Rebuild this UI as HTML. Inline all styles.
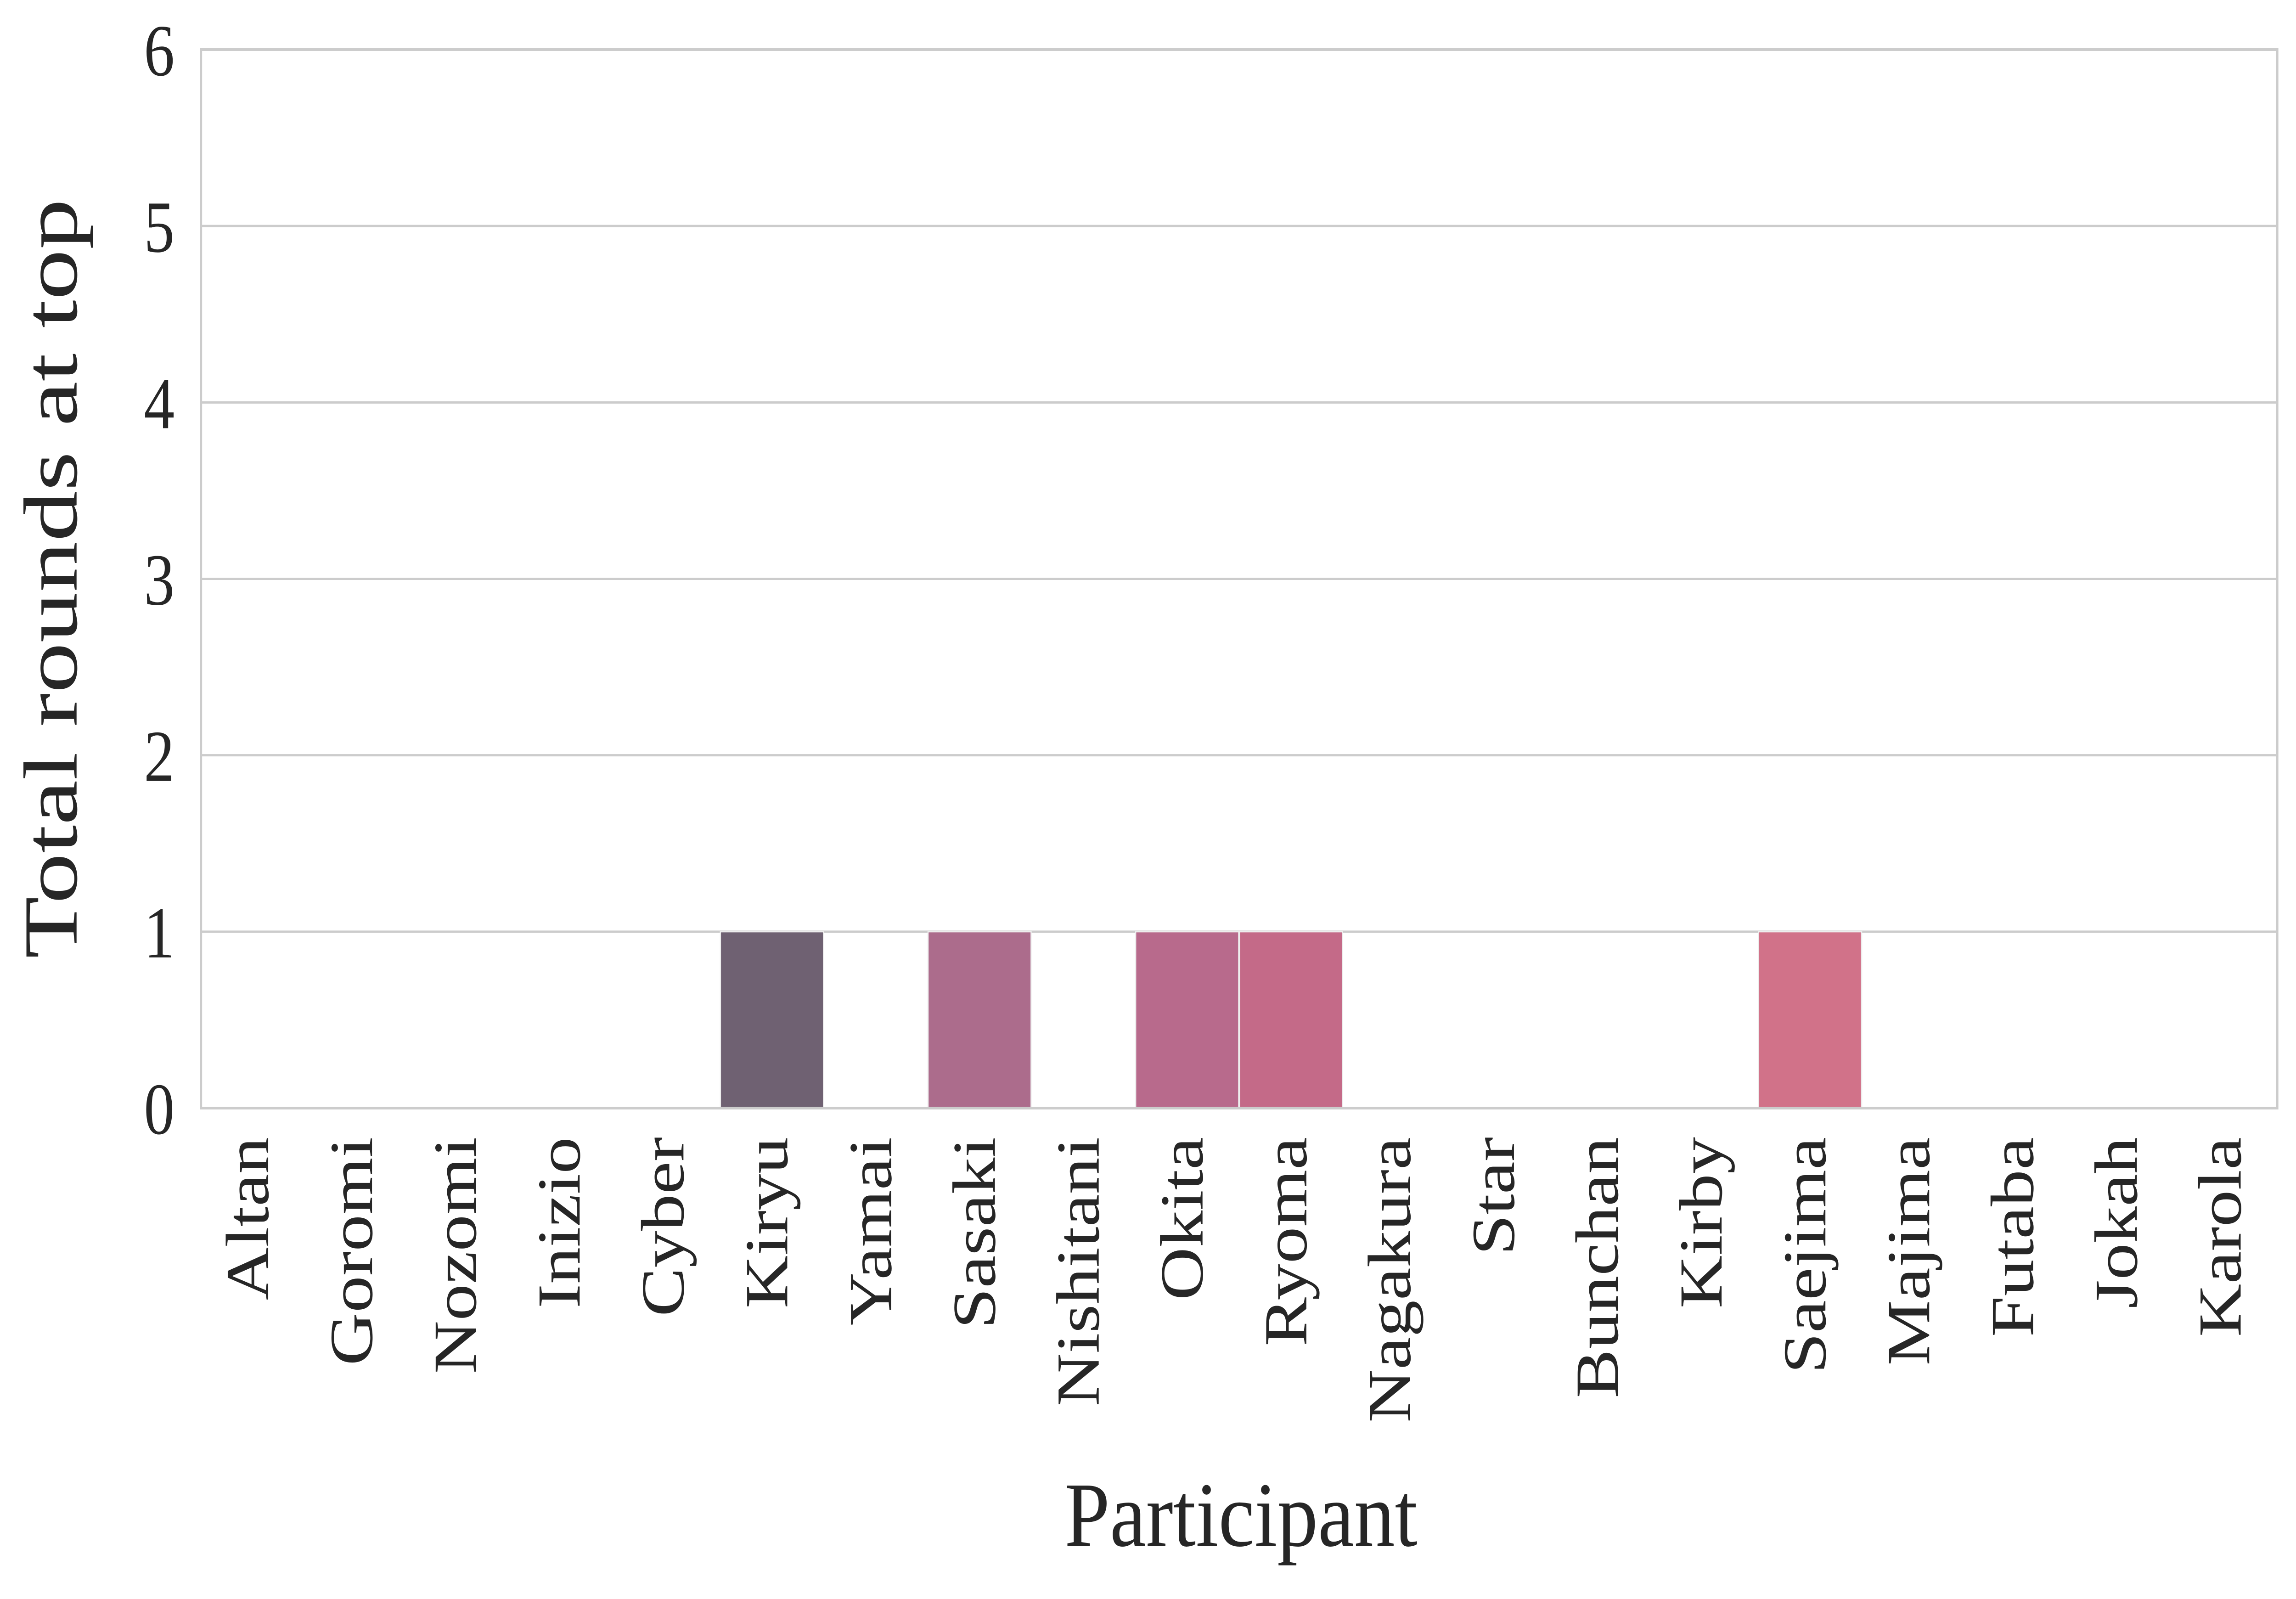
<!DOCTYPE html>
<html><head><meta charset="utf-8"><style>
html,body{margin:0;padding:0;background:#fff;overflow:hidden;width:100%;height:100%;}
svg{display:block;width:100vw;height:100vh;}
text{font-family:"Liberation Serif",serif;fill:#262626;}
</style></head><body>
<svg id="chart" viewBox="0 0 5998 3482" preserveAspectRatio="none" xmlns="http://www.w3.org/2000/svg">
<rect width="5998" height="3482" fill="#fff"/>
<g id="grid"></g>
<g id="bars"></g>
<rect x="525" y="108" width="5424" height="2305" fill="none" stroke="#cccccc" stroke-width="6"/>
<g id="yticks"></g>
<g id="xticks"></g>
<text transform="translate(200,1260) rotate(-90)" text-anchor="middle" font-size="200" textLength="1654" lengthAdjust="spacingAndGlyphs">Total rounds at top</text>
<text x="3242" y="3366" text-anchor="middle" font-size="200" textLength="922" lengthAdjust="spacingAndGlyphs">Participant</text>
</svg>
<script>
const categories = ["Altan","Goromi","Nozomi","Inizio","Cyber","Kiryu","Yamai","Sasaki","Nishitani","Okita","Ryoma","Nagakura","Star","Bunchan","Kirby","Saejima","Majima","Futaba","Jokah","Karola"];
const values = [0,0,0,0,0,1,0,1,0,1,1,0,0,0,0,1,0,0,0,0];
const barColors = ["#6f6172","#6f6172","#6f6172","#6f6172","#6f6172","#6f6172","#ac6c8c","#ac6c8c","#b86a8c","#b86a8c","#c46a88","#c46a88","#c96c88","#cc6e88","#ce7088","#d17289","#d17289","#d17289","#d17289","#d17289"];
const yTicks = [0,1,2,3,4,5,6];
const NS = "http://www.w3.org/2000/svg";
const L = 525, R = 5949, B = 2413, T = 108, YMAX = 6;
const band = (R - L) / categories.length;
const xPos = i => L + i * band;
const yPos = v => B - (v / YMAX) * (B - T);
const grid = document.getElementById('grid');
const yt = document.getElementById('yticks');
yTicks.forEach(t => {
  const ln = document.createElementNS(NS, 'line');
  
  
  ln.setAttribute('x1', L); ln.setAttribute('x2', R);
  ln.setAttribute('y1', yPos(t)); ln.setAttribute('y2', yPos(t));
  ln.setAttribute('stroke', '#cccccc'); ln.setAttribute('stroke-width', '5');
  grid.appendChild(ln);
  const tx = document.createElementNS(NS, 'text');
  
  
  tx.setAttribute('x', 456); tx.setAttribute('y', yPos(t) + 56);
  tx.setAttribute('text-anchor', 'end'); tx.setAttribute('font-size', '160');
  tx.textContent = t;
  yt.appendChild(tx);
});
const bars = document.getElementById('bars');
const xt = document.getElementById('xticks');
categories.forEach((c, i) => {
  if (values[i] > 0) {
    const r = document.createElementNS(NS, 'rect');
    
    
    r.setAttribute('x', xPos(i) + 1); r.setAttribute('width', band - 2);
    r.setAttribute('y', yPos(values[i])); r.setAttribute('height', B - yPos(values[i]));
    r.setAttribute('fill', barColors[i]);
    r.setAttribute('stroke', '#eeeeee'); r.setAttribute('stroke-width', '3');
    bars.appendChild(r);
  }
  const tx = document.createElementNS(NS, 'text');
  
  
  const cx = xPos(i) + band / 2 + 40;
  tx.setAttribute('transform', 'translate(' + cx + ',2476) rotate(-90)');
  tx.setAttribute('text-anchor', 'end'); tx.setAttribute('font-size', '160');
  tx.textContent = c;
  xt.appendChild(tx);
});
</script>
</body></html>
